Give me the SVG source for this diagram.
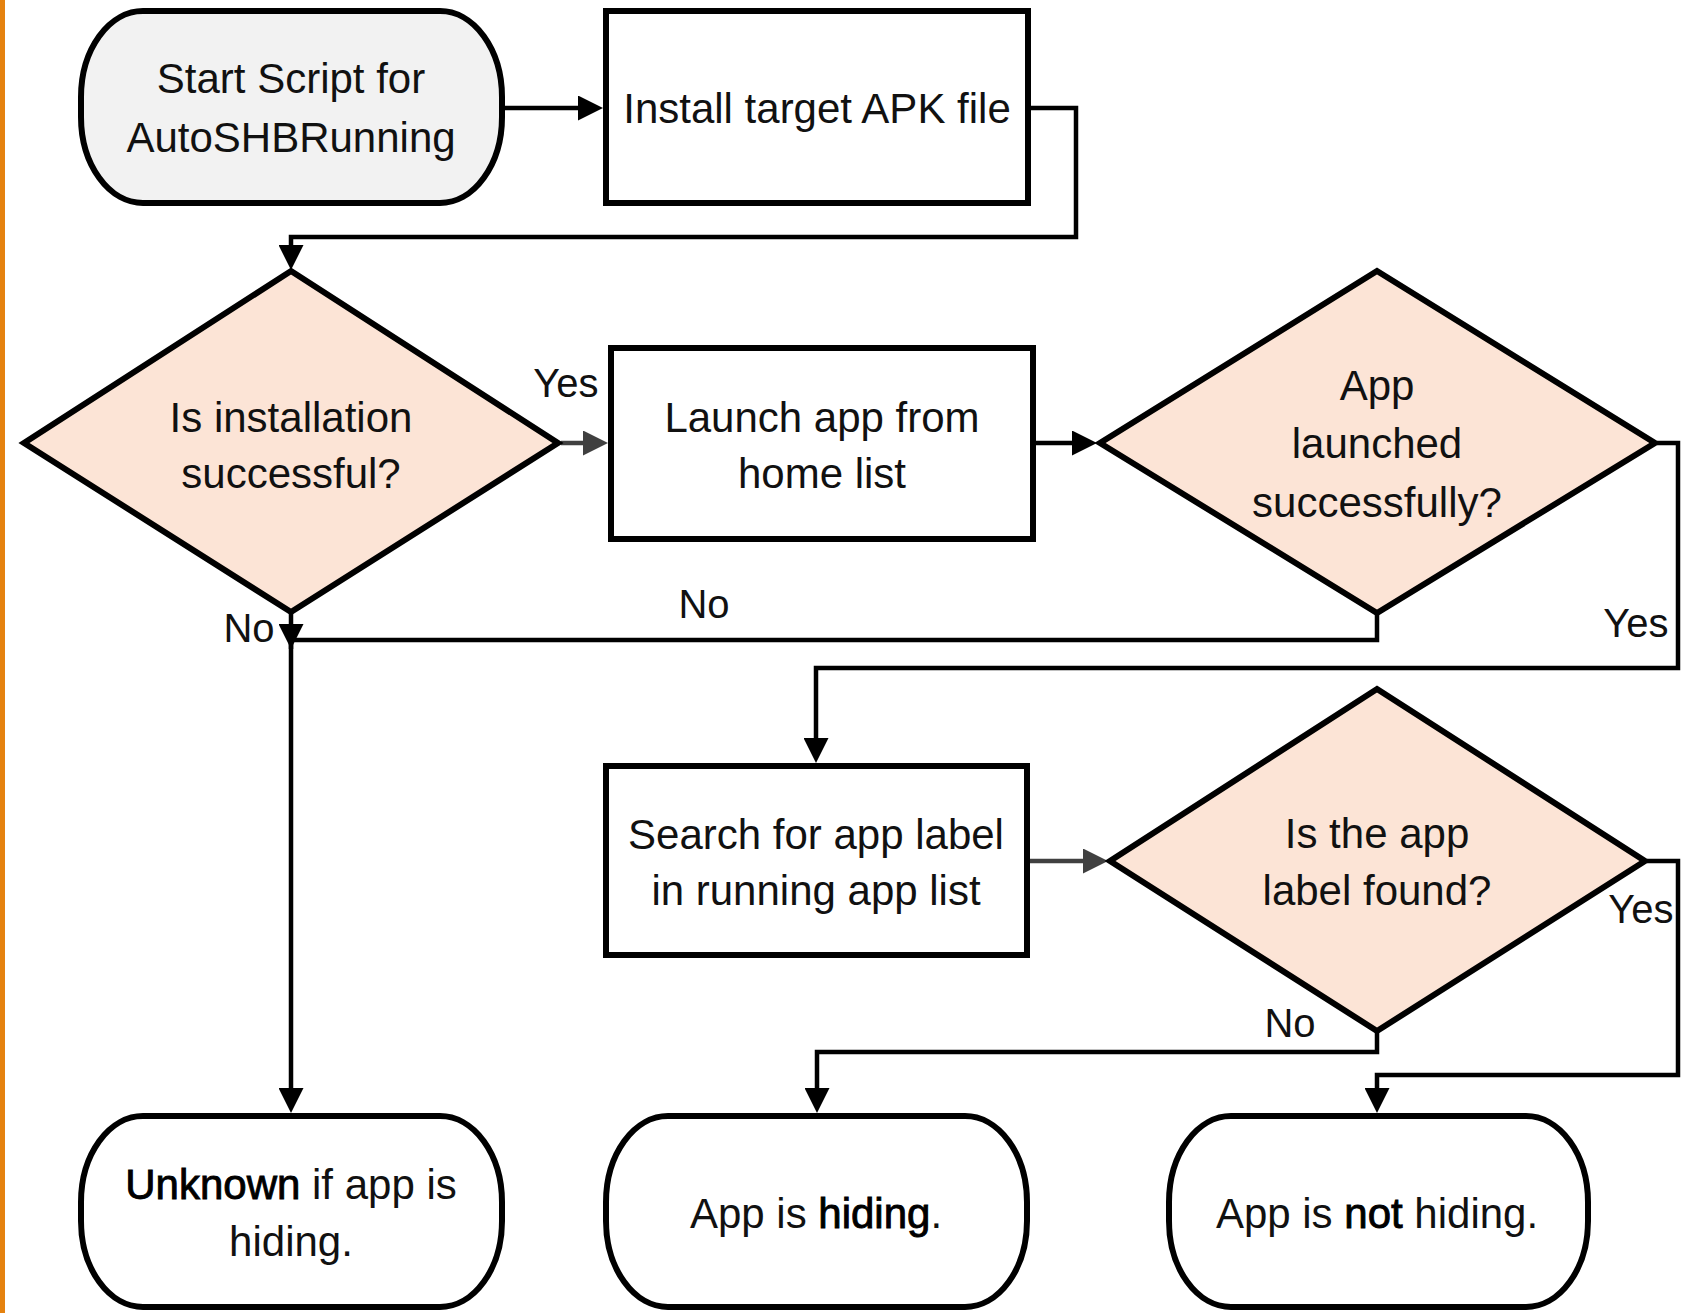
<svg xmlns="http://www.w3.org/2000/svg" width="1682" height="1313" viewBox="0 0 1682 1313">
  <style>
    .term { stroke: #000; stroke-width: 6; }
    .box { fill: #fff; stroke: #000; stroke-width: 6; }
    .dec { fill: #FCE4D6; stroke: #000; stroke-width: 6; }
    .t { font-family: "Liberation Sans", Arial, sans-serif; font-size: 42px; fill: #111; text-anchor: middle; }
    .lbl { font-family: "Liberation Sans", Arial, sans-serif; font-size: 40px; fill: #111; text-anchor: middle; }
    .em { fill: #000; stroke: #000; stroke-width: 0.9; }
    .edge { fill: none; stroke: #000; stroke-width: 4.5; }
    .edge.gray { stroke: #404040; }
  </style>
  <defs>
    <!-- arrowhead whose tip sits 10px past the end of the path -->
    <marker id="arr" viewBox="0 0 10 10" refX="6" refY="5" markerWidth="25" markerHeight="25" markerUnits="userSpaceOnUse" orient="auto">
      <path d="M0,0 L10,5 L0,10 z" fill="#000"/>
    </marker>
    <marker id="arrGray" viewBox="0 0 10 10" refX="6" refY="5" markerWidth="25" markerHeight="25" markerUnits="userSpaceOnUse" orient="auto">
      <path d="M0,0 L10,5 L0,10 z" fill="#404040"/>
    </marker>
    <!-- arrowhead whose tip sits on the end of the path -->
    <marker id="arrEnd" viewBox="0 0 10 10" refX="10" refY="5" markerWidth="25" markerHeight="25" markerUnits="userSpaceOnUse" orient="auto">
      <path d="M0,0 L10,5 L0,10 z" fill="#000"/>
    </marker>
  </defs>

  <rect width="1682" height="1313" fill="#fff"/>
  <!-- left accent bar -->
  <rect x="0" y="0" width="5" height="1313" fill="#E5820F"/>

  <g id="connectors">
    <path class="edge" d="M505 108 H593" marker-end="url(#arr)"/>
    <path class="edge" d="M1031 108 H1076 V237 H291 V260" marker-end="url(#arr)"/>
    <path class="edge gray" d="M561 443 H598" marker-end="url(#arrGray)"/>
    <path class="edge" d="M1036 443 H1087" marker-end="url(#arr)"/>
    <path class="edge" d="M1377 613 V640 H291 V649" marker-end="url(#arrEnd)"/>
    <path class="edge" d="M1657 443 H1678 V668 H816 V753" marker-end="url(#arr)"/>
    <path class="edge gray" d="M1030 861 H1098" marker-end="url(#arrGray)"/>
    <path class="edge" d="M1647 861 H1678 V1075 H1377 V1103" marker-end="url(#arr)"/>
    <path class="edge" d="M1377 1031 V1052 H817 V1103" marker-end="url(#arr)"/>
    <path class="edge" d="M291 611 V1103" marker-end="url(#arr)"/>

    <text class="lbl" x="566" y="397">Yes</text>
    <text class="lbl" x="249" y="642">No</text>
    <text class="lbl" x="704" y="618">No</text>
    <text class="lbl" x="1636" y="637">Yes</text>
    <text class="lbl" x="1641" y="923">Yes</text>
    <text class="lbl" x="1290" y="1037">No</text>
  </g>

  <g id="start">
    <rect class="term" x="81" y="11" width="421" height="192" rx="62" ry="86" fill="#F2F2F2"/>
    <text class="t" x="291" y="93">Start Script for</text>
    <text class="t" x="291" y="152">AutoSHBRunning</text>
  </g>

  <g id="install">
    <rect class="box" x="606" y="11" width="422" height="192"/>
    <text class="t" x="817" y="123">Install target APK file</text>
  </g>

  <g id="installOk">
    <polygon class="dec" points="291,271 558,443 291,612 24,443"/>
    <text class="t" x="291" y="432">Is installation</text>
    <text class="t" x="291" y="488">successful?</text>
  </g>

  <g id="launch">
    <rect class="box" x="611" y="348" width="422" height="191"/>
    <text class="t" x="822" y="432">Launch app from</text>
    <text class="t" x="822" y="488">home list</text>
  </g>

  <g id="launchOk">
    <polygon class="dec" points="1377,271 1655,443 1377,613 1100,443"/>
    <text class="t" x="1377" y="400">App</text>
    <text class="t" x="1377" y="458">launched</text>
    <text class="t" x="1377" y="517">successfully?</text>
  </g>

  <g id="search">
    <rect class="box" x="606" y="766" width="421" height="189"/>
    <text class="t" x="816" y="849">Search for app label</text>
    <text class="t" x="816" y="905">in running app list</text>
  </g>

  <g id="labelFound">
    <polygon class="dec" points="1377,689 1645,861 1377,1031 1110,861"/>
    <text class="t" x="1377" y="848">Is the app</text>
    <text class="t" x="1377" y="905">label found?</text>
  </g>

  <g id="unknown">
    <rect class="term" x="81" y="1116" width="421" height="191" rx="62" ry="86" fill="#fff"/>
    <text class="t" x="291" y="1199"><tspan class="em">Unknown</tspan> if app is</text>
    <text class="t" x="291" y="1256">hiding.</text>
  </g>

  <g id="hiding">
    <rect class="term" x="606" y="1116" width="421" height="191" rx="62" ry="86" fill="#fff"/>
    <text class="t" x="816" y="1228">App is <tspan class="em">hiding</tspan>.</text>
  </g>

  <g id="notHiding">
    <rect class="term" x="1169" y="1116" width="419" height="191" rx="62" ry="86" fill="#fff"/>
    <text class="t" x="1377" y="1228">App is <tspan class="em">not</tspan> hiding.</text>
  </g>
</svg>
